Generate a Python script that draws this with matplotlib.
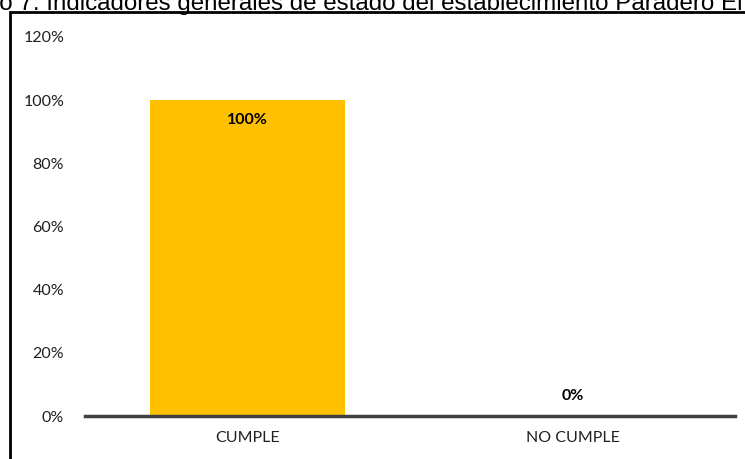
import matplotlib.pyplot as plt
from matplotlib.patches import Rectangle

categorias = ["CUMPLE", "NO CUMPLE"]
porcentajes = [100, 0]
yticks = [0, 20, 40, 60, 80, 100, 120]
titulo = "Gráfico 7. Indicadores generales de estado del establecimiento Paradero El Porvenir"

W, H = 745, 459
fig = plt.figure(figsize=(W / 100, H / 100), dpi=100)

# marco del gráfico (solo se ven los bordes izquierdo y superior)
fig.patches.append(Rectangle((9.5 / W, -0.1), 2.0, (H - 12.5) / H + 0.1,
                             transform=fig.transFigure, fill=False,
                             edgecolor="black", linewidth=2))

fig.text(-65 / W, 1 - 10 / H, titulo, fontsize=17.4, family="Liberation Sans",
         va="baseline", ha="left")

ax = fig.add_axes([85 / W, (H - 416) / H, 650 / W, (416 - 37) / H])
x = range(len(categorias))
ax.bar(x, porcentajes, width=0.6, color="#FFC000")
ax.set_xlim(-0.5, 1.5)
ax.set_ylim(0, 120)
ax.set_yticks(yticks)
ax.set_yticklabels([f"{v}%" for v in yticks])
ax.set_xticks(list(x))
ax.set_xticklabels(categorias)

for s in ["top", "right", "left"]:
    ax.spines[s].set_visible(False)
ax.spines["bottom"].set_color("#404040")
ax.spines["bottom"].set_linewidth(2.5)
ax.tick_params(length=0, labelsize=11.5, labelcolor="#202020")
ax.tick_params(axis="y", pad=15)
ax.tick_params(axis="x", pad=11)
for lab in ax.get_xticklabels() + ax.get_yticklabels():
    lab.set_family("Lato")

for xi, v in zip(x, porcentajes):
    if v > 10:
        ax.text(xi, v - 4, f"{v}%", ha="center", va="top", fontsize=11.5,
                fontweight="bold", family="Lato")
    else:
        ax.text(xi, v + 4, f"{v}%", ha="center", va="bottom", fontsize=11.5,
                fontweight="bold", family="Lato")

fig.savefig("out.png", dpi=100)
